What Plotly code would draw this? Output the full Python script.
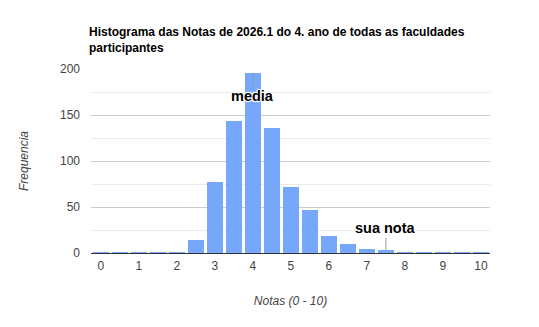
import plotly.graph_objects as go

bin_centers = [0, 0.5, 1, 1.5, 2, 2.5, 3, 3.5, 4, 4.5, 5, 5.5, 6, 6.5, 7, 7.5, 8, 8.5, 9, 9.5, 10]
frequencias = [1, 1, 1, 1, 1, 14, 77, 144, 196, 136, 72, 47, 19, 10, 4, 3, 1, 1, 1, 1, 1]
x_ticks = [0, 1, 2, 3, 4, 5, 6, 7, 8, 9, 10]
title_lines = ["Histograma das Notas de 2026.1 do 4. ano de todas as faculdades", "participantes"]
media_x, media_y = 4, 196
nota_x, nota_y = 7.5, 3

FONT = "Arial, Liberation Sans, sans-serif"
halo = "1px 1px 1px white, -1px -1px 1px white, 1px -1px 1px white, -1px 1px 1px white, 0 0 2px white"

L, R, T, B = 91, 49, 69, 74
W, H = 539, 327
PH = H - T - B
PW = W - L - R

fig = go.Figure()
fig.add_trace(go.Bar(
    x=bin_centers, y=frequencias, width=0.42,
    marker=dict(color="#76a7fa", line=dict(width=0)),
    hoverinfo="x+y",
))

fig.update_layout(
    width=W, height=H,
    margin=dict(l=L, r=R, t=T, b=B),
    paper_bgcolor="white", plot_bgcolor="white",
    font=dict(family=FONT, size=12, color="#444"),
    showlegend=False,
    xaxis=dict(
        range=[-0.26, 10.24], tickvals=x_ticks, ticktext=[str(t) for t in x_ticks],
        showgrid=False, zeroline=False, showline=False,
        ticks="", ticklabelstandoff=4, tickfont=dict(size=12, color="#444"),
        title=dict(text="<i>Notas (0 - 10)</i>", font=dict(size=12, color="#444"), standoff=24),
    ),
    yaxis=dict(
        range=[0, 200], tickvals=[0, 50, 100, 150, 200],
        showgrid=True, gridcolor="#cccccc", gridwidth=1,
        minor=dict(tickvals=[25, 75, 125, 175], showgrid=True, gridcolor="#ebebeb", gridwidth=1, ticks=""),
        zeroline=True, zerolinecolor="#333", zerolinewidth=1,
        showline=False, ticks="", ticklabelstandoff=10,
        tickfont=dict(size=12, color="#444"),
        title=dict(text="<i>Frequencia</i>", font=dict(size=12, color="#444"), standoff=28),
    ),
    bargap=0,
)

fig.add_annotation(
    xref="paper", yref="paper",
    x=(88 - L) / PW, y=1 + (T - 40) / PH,
    xanchor="left", yanchor="middle", align="left", showarrow=False,
    text="<b>" + "<br>".join(title_lines) + "</b>",
    font=dict(family=FONT, size=12, color="#000"),
    borderpad=0,
)

fig.add_annotation(
    x=media_x, y=media_y, text="<b>media</b>", showarrow=True, arrowhead=0,
    arrowwidth=1, arrowcolor="#999", ax=0, ay=23, standoff=0,
    font=dict(family=FONT, size=14.5, color="#000", shadow=halo),
)
fig.add_annotation(
    x=nota_x, y=nota_y, text="<b>sua nota</b>", showarrow=True, arrowhead=0,
    arrowwidth=1, arrowcolor="#999", ax=0, ay=-22, standoff=0,
    font=dict(family=FONT, size=14.5, color="#000", shadow=halo),
)

fig.write_html("out.html")
